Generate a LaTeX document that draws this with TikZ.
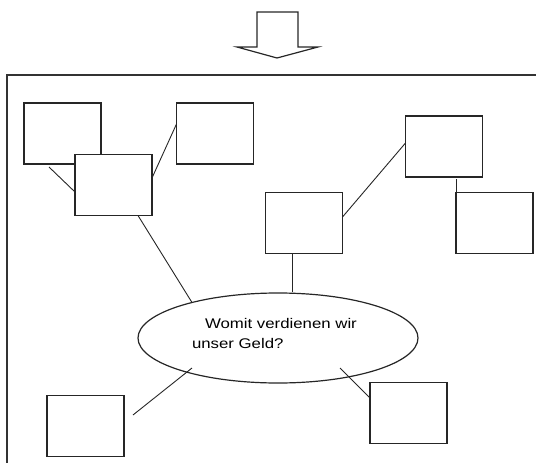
\documentclass[tikz,border=0pt]{standalone}
\usepackage{fontspec}
\usepackage{graphicx}
\setmainfont{Liberation Sans}
\usetikzlibrary{shapes.geometric}
\begin{document}
\begin{tikzpicture}[x=1pt,y=-1pt,
  box/.style={draw=black!85,line width=1.3pt,fill=white,inner sep=0pt,outer sep=0pt,
    minimum width=77pt,minimum height=61pt},
  link/.style={draw=black!85,line width=0.9pt},
  frameline/.style={draw=black!80,line width=1.3pt},
  caption/.style={inner sep=0pt,outer sep=0pt,anchor=base west,
    font=\fontsize{14}{16}\selectfont}]
\useasboundingbox (0,0) rectangle (536,463);

% block arrow pointing down
\draw[line width=1.2pt,draw=black!85,line join=miter]
  (257,12) -- (298,12) -- (298,47) -- (318,47) -- (277,58) -- (237,47) -- (257,47) -- cycle;

% frame (top and left edges)
\draw[frameline] (536,75) -- (7,75) -- (7,463);

% boxes
\node[box] (A) at (62.5,133.5) {};
\node[box] (B) at (113.5,185) {};
\node[box] (C) at (215,133.5) {};
\node[box] (D) at (304,223) {};
\node[box] (E) at (444,146.5) {};
\node[box] (F) at (494.5,223) {};
\node[box] (G) at (85.5,426) {};
\node[box] (H) at (408.5,413) {};

% central ellipse
\node[ellipse,draw=black!85,line width=1.2pt,fill=white,inner sep=0pt,
  minimum width=280pt,minimum height=90pt] (Q) at (278,338) {};
\node[caption] (q1) at (205,328) {\scalebox{1.2}[1]{Womit verdienen wir}};
\node[caption] (q2) at (192,348) {\scalebox{1.2}[1]{unser Geld?}};

% connectors
\draw[link] ([shift={(-13.5,3)}]A.south) -- ([shift={(0,7)}]B.west);
\draw[link] ([shift={(0,-7)}]B.east) -- ([shift={(0,-9.5)}]C.west);
\draw[link] ([shift={(24.5,0)}]B.south) -- ([shift={(-86,-35.5)}]Q.center);
\draw[link] ([shift={(0,-6)}]D.east) -- ([shift={(0,-3.5)}]E.west);
\draw[link] ([shift={(12,2)}]E.south) -- (F.north west);
\draw[link] ([shift={(-12,0)}]D.south) -- ([shift={(14,0)}]Q.north);
\draw[link] ([shift={(9,-11)}]G.east) -- ([shift={(-86,30)}]Q.center);
\draw[link] ([shift={(62,30)}]Q.center) -- ([shift={(0,-15)}]H.west);
\end{tikzpicture}
\end{document}
